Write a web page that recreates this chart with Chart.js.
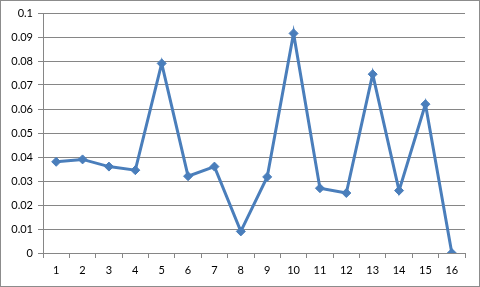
<!DOCTYPE html>
<html>
<head>
<meta charset="utf-8">
<script src="https://cdn.jsdelivr.net/npm/chart.js@4/dist/chart.umd.min.js"></script>
<style>
    html, body { margin: 0; padding: 0; background: #fff; }
    #marco { width: 478px; height: 285px; border: 1px solid #8c8c8c; }
    canvas { display: block; }
</style>
</head>
<body>
<div id="marco"><canvas id="grafico" width="478" height="285"></canvas></div>
<script>
const categorias = ['1', '2', '3', '4', '5', '6', '7', '8', '9', '10', '11', '12', '13', '14', '15', '16'];
const valores = [0.038, 0.039, 0.036, 0.0345, 0.079, 0.032, 0.036, 0.009, 0.0317, 0.0915, 0.027, 0.025, 0.0745, 0.026, 0.062, 0];
const ticksY = [0, 0.01, 0.02, 0.03, 0.04, 0.05, 0.06, 0.07, 0.08, 0.09, 0.1];

const fuente = { family: 'Lato', size: 11 };
const azul = '#4a7ebb';
const gris = '#868686';

new Chart(document.getElementById('grafico'), {
    type: 'line',
    data: {
        labels: categorias,
        datasets: [{
            data: valores,
            borderColor: azul,
            backgroundColor: azul,
            borderWidth: 3,
            tension: 0,
            pointStyle: 'rectRot',
            pointRadius: 4.5,
            pointBorderWidth: 1,
            fill: false
        }]
    },
    options: {
        responsive: false,
        animation: false,
        layout: { padding: { top: 12, right: 14, left: 0, bottom: 0 } },
        plugins: { legend: { display: false }, tooltip: { enabled: false } },
        scales: {
            x: {
                offset: true,
                grid: { offset: true, drawOnChartArea: false, drawTicks: true, tickLength: 5, color: gris },
                border: { color: gris },
                ticks: { color: '#000', font: fuente, padding: 6, maxRotation: 0 },
                afterFit: s => { s.height = 33; }
            },
            y: {
                min: 0,
                max: 0.1,
                afterBuildTicks: s => { s.ticks = ticksY.map(v => ({ value: v })); },
                grid: { color: gris, tickLength: 5 },
                border: { color: gris },
                ticks: {
                    color: '#000',
                    font: fuente,
                    padding: 5,
                    callback: v => String(parseFloat(Number(v).toFixed(2)))
                },
                afterFit: s => { s.width = 42; }
            }
        }
    }
});
</script>
</body>
</html>
